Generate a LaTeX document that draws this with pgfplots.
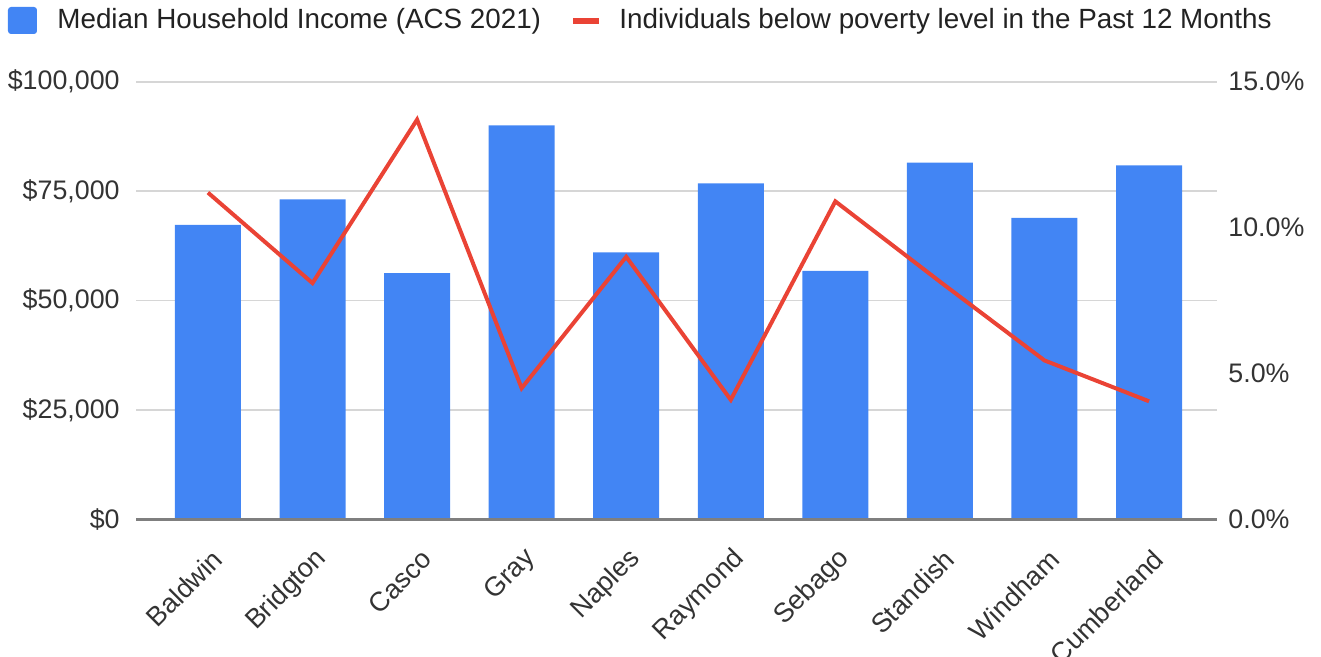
\documentclass[border=0pt]{standalone}
\usepackage{fontspec}
\setmainfont{Liberation Sans}
\usepackage{pgfplots}
\pgfplotsset{compat=1.18}
\definecolor{barblue}{HTML}{4285F4}
\definecolor{linered}{HTML}{EA4335}
\definecolor{gridgray}{HTML}{D6D6D6}
\definecolor{basegray}{HTML}{7F7F7F}
\definecolor{ticktext}{HTML}{333333}
\definecolor{legtext}{HTML}{222222}
\begin{document}
\begin{tikzpicture}
\begin{axis}[
  scale only axis,
  width=540.5pt, height=218.9pt,
  xmin=-0.688, xmax=9.65,
  ymin=0, ymax=100000,
  scaled y ticks=false,
  axis line style={draw=none},
  major tick length=0pt,
  tick style={draw=none},
  xtick={0,...,9},
  xticklabels={Baldwin,Bridgton,Casco,Gray,Naples,Raymond,Sebago,Standish,Windham,Cumberland},
  xticklabel style={rotate=45, anchor=east, inner sep=0pt, xshift=-8.8pt, yshift=-15.9pt, font=\fontsize{13.5}{15}\selectfont, text=ticktext},
  ytick={0,25000,50000,75000,100000},
  yticklabels={\$0,{\$25,000},{\$50,000},{\$75,000},{\$100,000}},
  yticklabel style={anchor=east, inner sep=0pt, xshift=-8pt, font=\fontsize{13.4}{15}\selectfont, text=ticktext},
  ymajorgrids,
  grid style={gridgray, line width=0.9pt},
]
\addplot[ybar, bar width=33pt, fill=barblue, draw=none] coordinates {
  (0,67300) (1,73100) (2,56300) (3,90000) (4,61000)
  (5,76800) (6,56800) (7,81500) (8,68900) (9,80900)
};
\end{axis}
\begin{axis}[
  scale only axis,
  width=540.5pt, height=218.9pt,
  xmin=-0.688, xmax=9.65,
  ymin=0, ymax=15,
  axis x line*=bottom,
  axis y line*=right,
  x axis line style={draw=basegray, line width=1.4pt},
  y axis line style={draw=none},
  major tick length=0pt,
  tick style={draw=none},
  xtick=\empty,
  ytick={0,5,10,15},
  yticklabels={0.0\%,5.0\%,10.0\%,15.0\%},
  yticklabel style={anchor=west, inner sep=0pt, xshift=5.5pt, font=\fontsize{13.4}{15}\selectfont, text=ticktext},
]
\addplot[linered, line width=2pt, line join=miter] coordinates {
  (0,11.2) (1,8.1) (2,13.7) (3,4.5) (4,9.0)
  (5,4.1) (6,10.9) (7,8.15) (8,5.45) (9,4.05)
};
\end{axis}
% legend
\fill[barblue, rounded corners=1.5pt] (-64pt,242.75pt) rectangle (-49.5pt,256.25pt);
\node[anchor=west, inner sep=0pt, text=legtext, font=\fontsize{13.9}{15}\selectfont] at (-39.5pt,249.25pt) {Median Household Income (ACS 2021)};
\draw[linered, line width=3pt] (218.5pt,249.25pt) -- (231.5pt,249.25pt);
\node[anchor=west, inner sep=0pt, text=legtext, font=\fontsize{13.9}{15}\selectfont] at (241.5pt,249.25pt) {Individuals below poverty level in the Past 12 Months};
\pgfresetboundingbox
\path[use as bounding box] (-68pt,-68.75pt) rectangle (592.5pt,259.75pt);
\end{tikzpicture}
\end{document}
